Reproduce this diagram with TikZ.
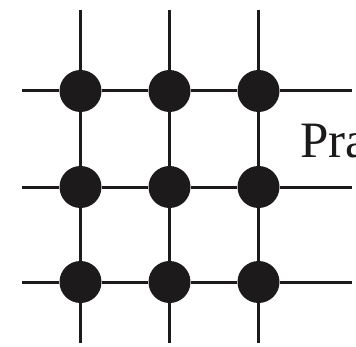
\documentclass[tikz,border=0pt]{standalone}
\usepackage{fontspec}
\setmainfont{Liberation Serif}
\usetikzlibrary{positioning}
\definecolor{ink}{HTML}{1C1A1A}
\tikzset{
  site/.style={circle,fill=ink,inner sep=0pt,minimum size=42pt},
  bond/.style={line width=3pt,draw=ink},
  tag/.style={font=\fontsize{51}{51}\selectfont,text=ink,inner sep=0pt,
              anchor=base west},
}
\begin{document}
\begin{tikzpicture}[x=1pt,y=1pt]
  \useasboundingbox (0,0) rectangle (356,346);
  \foreach \r/\y in {1/255,2/159,3/64}{
    \foreach \c/\x in {1/80.5,2/169.5,3/258.5}{
      \node[site] (s\r\c) at (\x,\y) {};
    }
  }
  % loose ends of the lattice
  \foreach \c/\x in {1/80.5,2/169.5,3/258.5}{
    \coordinate (top\c) at (\x,336);
    \coordinate (bot\c) at (\x,3);
  }
  \foreach \r/\y in {1/255,2/159,3/64}{
    \coordinate (west\r) at (22,\y);
    \coordinate (east\r) at (352,\y);
  }
  \foreach \c in {1,2,3}{
    \draw[bond] (top\c) -- (s1\c) -- (s2\c) -- (s3\c) -- (bot\c);
  }
  \foreach \r in {1,2,3}{
    \draw[bond] (west\r) -- (s\r1) -- (s\r2) -- (s\r3) -- (east\r);
  }
  \node[tag] (lbl) at (300,189) {Pra};
\end{tikzpicture}
\end{document}
